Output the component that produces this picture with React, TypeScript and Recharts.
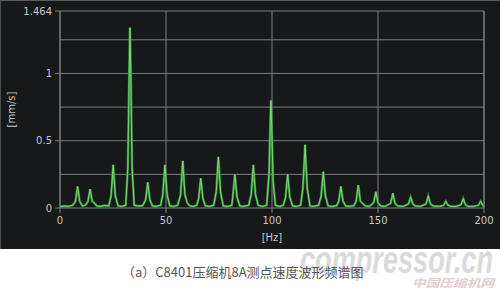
import React from 'react';
import {
    LineChart, Line, XAxis, YAxis, CartesianGrid, ReferenceLine, Label,
} from 'recharts';

// velocity spectrum, [Hz, mm/s] pairs, split by band
const band0to50: [number, number][] = [
    [0, 0.01], [2, 0.015], [4, 0.012], [6, 0.02], [7.3, 0.05], [8.3, 0.16], [9.3, 0.05],
    [10.6, 0.015], [12, 0.02], [13.2, 0.05], [14.2, 0.14], [15.2, 0.05], [16.4, 0.035],
    [17.3, 0.015], [19, 0.012], [21, 0.018], [23, 0.015], [24.1, 0.09], [25.1, 0.32],
    [26.1, 0.09], [27.4, 0.015], [29, 0.012], [31, 0.02], [32, 0.3], [32.6, 0.95],
    [33, 1.34], [33.4, 1.0], [34, 0.3], [35, 0.02], [37, 0.015], [39, 0.018], [40.4, 0.06],
    [41.4, 0.19], [42.4, 0.06], [43.6, 0.015], [45.5, 0.012], [47.5, 0.02], [48.5, 0.1],
    [49.5, 0.32], [50.5, 0.1],
];
const band50to100: [number, number][] = [
    [51.8, 0.015], [53.5, 0.012], [55.5, 0.02], [56.9, 0.1], [57.9, 0.35], [58.9, 0.1],
    [60, 0.04], [61.2, 0.015], [63, 0.012], [64.5, 0.02], [65.4, 0.07], [66.4, 0.22],
    [67.4, 0.07], [68.6, 0.015], [70.5, 0.012], [72.5, 0.02], [73.7, 0.12], [74.7, 0.38],
    [75.7, 0.12], [77, 0.015], [79, 0.012], [81, 0.018], [81.5, 0.08], [82.5, 0.25],
    [83.5, 0.08], [84.8, 0.015], [86.5, 0.012], [89, 0.02], [90.2, 0.1], [91.2, 0.32],
    [92.2, 0.1], [93.5, 0.02], [95.5, 0.012], [97.5, 0.02], [98.6, 0.25], [99.2, 0.64],
    [99.5, 0.8], [99.9, 0.6], [100.5, 0.2],
];
const band100to150: [number, number][] = [
    [101.6, 0.02], [103.5, 0.012], [105.3, 0.02], [106.4, 0.08], [107.4, 0.25], [108.4, 0.08],
    [109.7, 0.015], [111.5, 0.012], [113.5, 0.02], [114.6, 0.15], [115.6, 0.47], [116.6, 0.15],
    [117.9, 0.015], [119.5, 0.012], [122, 0.02], [123.2, 0.09], [124.2, 0.27], [125.2, 0.09],
    [126.5, 0.015], [128.5, 0.012], [130.5, 0.018], [131.5, 0.05], [132.5, 0.16], [133.5, 0.05],
    [134.8, 0.015], [136.5, 0.012], [138.7, 0.018], [139.7, 0.05], [140.7, 0.17], [141.7, 0.05],
    [143, 0.03], [144, 0.015], [146, 0.012], [148, 0.04], [149, 0.12], [150, 0.04],
];
const band150to200: [number, number][] = [
    [151.2, 0.015], [153.5, 0.012], [156, 0.035], [157, 0.11], [158, 0.035], [159.3, 0.015],
    [162, 0.012], [164.4, 0.03], [165.4, 0.08], [166.4, 0.03], [167.6, 0.015], [170, 0.012],
    [172.7, 0.03], [173.7, 0.09], [174.7, 0.03], [176, 0.015], [179, 0.012], [181, 0.02],
    [182, 0.05], [183, 0.02], [184.5, 0.012], [187, 0.012], [189.2, 0.025], [190.2, 0.07],
    [191.2, 0.025], [192.5, 0.012], [195, 0.012], [197.4, 0.02], [198.4, 0.05], [199.4, 0.02],
    [200, 0.012],
];

const xTicks = [0, 50, 100, 150, 200];
const yTicks = [0, 0.5, 1, 1.464];
const yGrid = [0.25, 0.5, 0.75, 1, 1.25, 1.464];

const spectrum = [...band0to50, ...band50to100, ...band100to150, ...band150to200]
    .map(([hz, v]) => ({ hz, v }));

const GRID = '#7c7f81';
const TICK = { fill: '#c6c8c9', fontSize: 10, fontFamily: 'DejaVu Sans' };

export default function App() {
    return (
        <div style={{ position: 'absolute', left: 0, top: 0, width: 500, height: 289, background: '#fff', overflow: 'hidden' }}>
            {/* caption and site watermark, sitting under the dark panel */}
            <svg width={500} height={89} style={{ position: 'absolute', left: 0, top: 200 }}>
                <text x={300} y={73} textLength={193} lengthAdjust="spacingAndGlyphs"
                    fill="#dadada" fontSize={38} fontWeight="bold" fontStyle="italic"
                    fontFamily="Liberation Sans Narrow, Liberation Sans, sans-serif">compressor.cn</text>
                <text x={485} y={56} fill="#d4d4d4" fontSize={7} fontFamily="DejaVu Sans">®</text>
                <text x={412} y={87} textLength={82} lengthAdjust="spacingAndGlyphs"
                    fill="#e4cdcd" fontSize={11} fontStyle="italic" fontWeight="bold"
                    fontFamily="Noto Sans CJK SC">中国压缩机网</text>
                <text x={122} y={77} fill="#555" fontSize={13} fontFamily="Noto Sans CJK SC">（a）C8401压缩机8A测点速度波形频谱图</text>
            </svg>
            <div style={{
                position: 'absolute', left: 0, top: 0, width: 500, height: 249,
                background: '#16181a', borderTop: '1px solid #5a5c5e', borderLeft: '1px solid #4a4c4e',
                boxSizing: 'border-box',
            }}>
                <LineChart
                    width={500} height={249} data={spectrum}
                    margin={{ top: 11, right: 16, left: -1, bottom: 0 }}
                    style={{ position: 'absolute', left: -1, top: -1 }}
                >
                    <CartesianGrid horizontal={false} stroke={GRID} strokeWidth={1} />
                    {yGrid.map(y => (
                        <ReferenceLine key={y} y={y} stroke={GRID} strokeWidth={1} ifOverflow="visible" />
                    ))}
                    <ReferenceLine x={200} stroke={GRID} strokeWidth={1} />
                    <XAxis
                        type="number" dataKey="hz" domain={[0, 200]} ticks={xTicks}
                        height={41} tick={TICK} tickSize={5} tickMargin={4}
                        stroke={GRID} tickLine={{ stroke: GRID }}
                    >
                        <Label content={({ viewBox }: any) => (
                            <text x={viewBox.x + viewBox.width / 2} y={viewBox.y + 33}
                                textAnchor="middle" fill="#c6c8c9" fontSize={10} fontFamily="DejaVu Sans">[Hz]</text>
                        )} />
                    </XAxis>
                    <YAxis
                        type="number" domain={[0, 1.464]} ticks={yTicks} width={61}
                        tick={TICK} tickSize={5} tickMargin={3}
                        tickFormatter={(v: number) => String(v)}
                        stroke={GRID} tickLine={{ stroke: GRID }}
                        allowDataOverflow
                    >
                        <Label content={({ viewBox }: any) => {
                            const cx = viewBox.x + 16;
                            const cy = viewBox.y + viewBox.height / 2;
                            return (
                                <text x={cx} y={cy} transform={`rotate(-90 ${cx} ${cy})`}
                                    textAnchor="middle" fill="#c6c8c9" fontSize={10} fontFamily="DejaVu Sans">[mm/s]</text>
                            );
                        }} />
                    </YAxis>
                    <Line
                        type="linear" dataKey="v" stroke="#2f8a35" strokeWidth={2.4}
                        dot={false} activeDot={false} isAnimationActive={false}
                    />
                    <Line
                        type="linear" dataKey="v" stroke="#86e07f" strokeWidth={0.9}
                        dot={false} activeDot={false} isAnimationActive={false}
                    />
                </LineChart>
            </div>
        </div>
    );
}
